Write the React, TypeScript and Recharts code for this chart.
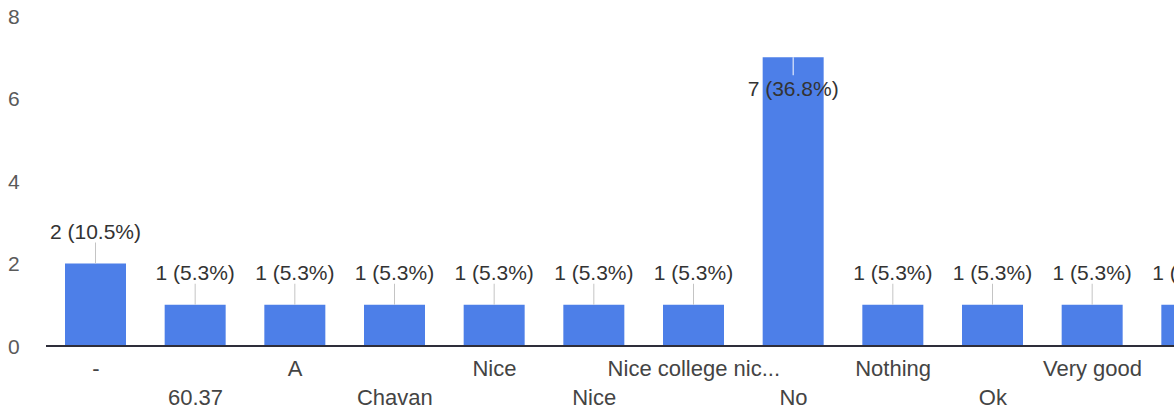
import { BarChart, Bar, XAxis, YAxis, LabelList } from "recharts";

// answers are sorted like the form summary, the last bar is cut off at the right edge
const answers = ["-", "60.37", "A", "Chavan", "Nice", "Nice", "Nice college nic...", "No", "Nothing", "Ok", "Very good", "Yes"];
const counts = [2, 1, 1, 1, 1, 1, 1, 7, 1, 1, 1, 1];
const shares = ["10.5%", "5.3%", "5.3%", "5.3%", "5.3%", "5.3%", "5.3%", "36.8%", "5.3%", "5.3%", "5.3%", "5.3%"];
const yTicks = [0, 2, 4, 6, 8];

const chartData = answers.map((answer, i) => ({
  answer,
  count: counts[i],
  note: `${counts[i]} (${shares[i]})`,
}));

const FONT = '"Liberation Sans", Arial, sans-serif';
const BLUE = "#4d7fe8";

function YTick(props: any) {
  const { y, payload } = props;
  return (
    <text x={8} y={y} textAnchor="start" dominantBaseline="central" fill="#5a5a5a" fontSize={21} fontFamily={FONT}>
      {payload.value}
    </text>
  );
}

function XTick(props: any) {
  const { x, y, payload, index } = props;
  const dy = index % 2 === 0 ? 22 : 51;
  return (
    <text x={x} y={y + dy} textAnchor="middle" dominantBaseline="central" fill="#444" fontSize={22} fontFamily={FONT}>
      {payload.value}
    </text>
  );
}

function BarNote(props: any) {
  const { x, y, width, index } = props;
  const cx = x + width / 2;
  const inside = counts[index] >= 6;
  if (inside) {
    return (
      <g>
        <line x1={cx} x2={cx} y1={y} y2={y + 18} stroke="#ffffff" strokeWidth={1} />
        <text x={cx} y={y + 31} textAnchor="middle" dominantBaseline="central" fill="#333" fontSize={21} fontFamily={FONT}>
          {chartData[index].note}
        </text>
      </g>
    );
  }
  return (
    <g>
      <line x1={cx} x2={cx} y1={y - 21} y2={y} stroke="#c4c4c4" strokeWidth={1} />
      <text x={cx} y={y - 32} textAnchor="middle" dominantBaseline="central" fill="#333" fontSize={21} fontFamily={FONT}>
        {chartData[index].note}
      </text>
    </g>
  );
}

export default function App() {
  return (
    <div style={{ position: "fixed", left: 0, top: 0, width: 1174, height: 412, overflow: "hidden", background: "#fff" }}>
      <BarChart width={1242} height={412} data={chartData} margin={{ top: 16, right: 0, bottom: 0, left: 0 }}>
        <YAxis
          domain={[0, 8]}
          ticks={yTicks}
          width={46}
          axisLine={false}
          tickLine={false}
          tick={<YTick />}
        />
        <XAxis
          dataKey="answer"
          height={66}
          interval={0}
          tickSize={0}
          tickMargin={0}
          tickLine={false}
          axisLine={{ stroke: "#2e2e3a", strokeWidth: 2 }}
          tick={<XTick />}
        />
        <Bar dataKey="count" fill={BLUE} barSize={61} isAnimationActive={false}>
          <LabelList dataKey="note" content={<BarNote />} />
        </Bar>
      </BarChart>
    </div>
  );
}
